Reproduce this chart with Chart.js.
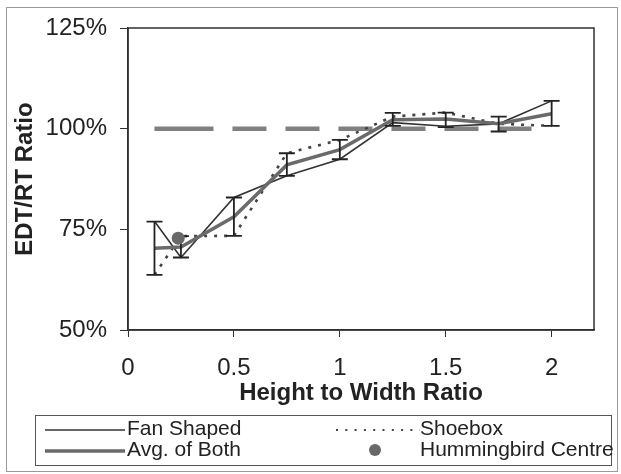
<!DOCTYPE html>
<html>
<head>
<meta charset="utf-8">
<script src="https://cdn.jsdelivr.net/npm/chart.js@4.4.1/dist/chart.umd.min.js"></script>
<style>
  html, body { margin: 0; padding: 0; background: #fff; }
  #wrap { width: 621px; height: 474px; }
</style>
</head>
<body>
<div id="wrap"><canvas id="edtChart" width="621" height="474"></canvas></div>
<script>
// height-to-width ratios measured
var ratios = [0.125, 0.25, 0.5, 0.75, 1.0, 1.25, 1.5, 1.75, 2.0];

// EDT/RT ratio in %
var fanShaped = [77.0, 68.0, 82.9, 88.3, 92.4, 101.5, 100.6, 101.2, 106.9];
var shoebox   = [63.7, 73.3, 73.4, 93.9, 97.2, 103.0, 104.0, 101.2, 100.7];
var avgBoth   = [70.3, 70.6, 78.1, 91.0, 94.8, 102.2, 102.4, 101.2, 103.7];

// error bar ends around the average
var errLow  = [63.7, 68.0, 73.4, 88.3, 92.4, 100.7, 100.4, 99.3, 100.7];
var errHigh = [76.9, 73.3, 82.9, 93.9, 97.2, 103.9, 104.0, 103.0, 106.9];

// single measured hall
var hummingbirdX = [0.237];
var hummingbirdY = [72.8];

// 100% reference line
var targetX = [0.125, 2.0];
var targetY = [100, 100];

var xTicks = [0, 0.5, 1, 1.5, 2];
var yTicks = [50, 75, 100, 125];

var FONT = "'Liberation Sans', Arial, Helvetica, sans-serif";
var TEXT = '#222';

function toPoints(xs, ys) {
    var pts = [];
    for (var i = 0; i < xs.length; i++) {
        pts.push({ x: xs[i], y: ys[i] });
    }
    return pts;
}

// white page with thin outer frame
var pageFrame = {
    id: 'pageFrame',
    beforeDraw: function(chart) {
        var ctx = chart.ctx;
        ctx.save();
        ctx.fillStyle = '#fff';
        ctx.fillRect(0, 0, chart.width, chart.height);
        ctx.strokeStyle = '#9a9a9a';
        ctx.lineWidth = 1;
        ctx.strokeRect(6.5, 7.5, 611, 464);
        ctx.restore();
    },
    afterDatasetsDraw: function(chart) {
        var a = chart.chartArea, ctx = chart.ctx;
        ctx.save();
        ctx.strokeStyle = '#303030';
        ctx.lineWidth = 1.5;
        ctx.strokeRect(a.left, a.top, a.right - a.left, a.bottom - a.top);
        ctx.restore();
    }
};

// error bars drawn right after the average line
var errorBars = {
    id: 'errorBars',
    afterDatasetDraw: function(chart, args) {
        if (chart.data.datasets[args.index].label !== 'Avg. of Both') return;
        var xs = chart.scales.x, ys = chart.scales.y, ctx = chart.ctx;
        ctx.save();
        ctx.strokeStyle = '#222';
        ctx.lineWidth = 1.8;
        for (var i = 0; i < ratios.length; i++) {
            var px = xs.getPixelForValue(ratios[i]);
            var lo = ys.getPixelForValue(errLow[i]);
            var hi = ys.getPixelForValue(errHigh[i]);
            ctx.beginPath();
            ctx.moveTo(px, lo); ctx.lineTo(px, hi);
            ctx.moveTo(px - 8, lo); ctx.lineTo(px + 8, lo);
            ctx.moveTo(px - 8, hi); ctx.lineTo(px + 8, hi);
            ctx.stroke();
        }
        ctx.restore();
    }
};

// boxed two column legend under the axis title
var boxLegend = {
    id: 'boxLegend',
    afterDraw: function(chart) {
        var ctx = chart.ctx;
        var ds = chart.data.datasets;
        var byLabel = {};
        ds.forEach(function(d) { byLabel[d.label] = d; });

        ctx.save();
        ctx.strokeStyle = '#555';
        ctx.lineWidth = 1;
        ctx.strokeRect(35.5, 415.5, 576, 50);

        function lineSample(d, x1, x2, y) {
            ctx.save();
            ctx.strokeStyle = d.borderColor;
            ctx.lineWidth = d.borderWidth;
            ctx.setLineDash(d.borderDash || []);
            ctx.beginPath();
            ctx.moveTo(x1, y); ctx.lineTo(x2, y);
            ctx.stroke();
            ctx.restore();
        }

        lineSample(byLabel['Fan Shaped'], 45, 125, 430);
        lineSample(byLabel['Avg. of Both'], 45, 125, 451);
        var sb = byLabel['Shoebox'];
        ctx.save();
        ctx.strokeStyle = sb.borderColor;
        ctx.lineWidth = 2;
        ctx.setLineDash([2, 7.3]);
        ctx.beginPath();
        ctx.moveTo(336, 430); ctx.lineTo(420, 430);
        ctx.stroke();
        ctx.restore();

        var hb = byLabel['Hummingbird Centre'];
        ctx.fillStyle = hb.backgroundColor;
        ctx.beginPath();
        ctx.arc(375, 450, 6, 0, Math.PI * 2);
        ctx.fill();

        ctx.fillStyle = TEXT;
        ctx.font = '21px ' + FONT;
        ctx.textBaseline = 'middle';
        ctx.textAlign = 'left';
        ctx.fillText('Fan Shaped', 127, 429);
        ctx.fillText('Avg. of Both', 127, 450);
        ctx.fillText('Shoebox', 420, 429);
        ctx.fillText('Hummingbird Centre', 420, 450);
        ctx.restore();
    }
};

var ctx = document.getElementById('edtChart').getContext('2d');
var edtChart = new Chart(ctx, {
    type: 'line',
    data: {
        datasets: [{
            label: 'Hummingbird Centre',
            type: 'scatter',
            data: toPoints(hummingbirdX, hummingbirdY),
            backgroundColor: '#686868',
            borderColor: '#686868',
            pointRadius: 6.5,
            pointBorderWidth: 0,
            showLine: false,
            order: 0
        }, {
            label: 'Avg. of Both',
            data: toPoints(ratios, avgBoth),
            borderColor: '#6a6a6a',
            borderWidth: 3.5,
            pointRadius: 0,
            tension: 0,
            order: 1
        }, {
            label: 'Fan Shaped',
            data: toPoints(ratios, fanShaped),
            borderColor: '#333',
            borderWidth: 1.6,
            pointRadius: 0,
            tension: 0,
            order: 2
        }, {
            label: 'Shoebox',
            data: toPoints(ratios, shoebox),
            borderColor: '#444',
            borderWidth: 2.6,
            borderDash: [3, 7],
            pointRadius: 0,
            tension: 0,
            order: 3
        }, {
            label: 'Target',
            data: toPoints(targetX, targetY),
            borderColor: '#808080',
            borderWidth: 4.5,
            borderDash: [59, 19, 34, 19, 34, 19, 34, 19, 34, 19, 34, 19, 34, 40],
            borderCapStyle: 'butt',
            pointRadius: 0,
            order: 4
        }]
    },
    options: {
        responsive: false,
        animation: false,
        layout: {
            padding: { left: 0, top: 28, right: 27, bottom: 64 }
        },
        plugins: {
            legend: { display: false },
            tooltip: { enabled: false }
        },
        scales: {
            x: {
                type: 'linear',
                min: 0,
                max: 2.2,
                afterFit: function(scale) { scale.height = 80; },
                afterBuildTicks: function(scale) {
                    scale.ticks = xTicks.map(function(v) { return { value: v }; });
                },
                ticks: {
                    padding: 17,
                    color: TEXT,
                    font: { family: FONT, size: 24 },
                    maxRotation: 0,
                    callback: function(v) { return String(v); }
                },
                grid: {
                    drawOnChartArea: false,
                    tickLength: 7,
                    color: '#303030',
                    tickWidth: 1
                },
                border: { display: true, color: '#303030', width: 1.5 },
                title: {
                    display: true,
                    text: 'Height to Width Ratio',
                    color: TEXT,
                    font: { family: FONT, size: 24, weight: 'bold' },
                    padding: { top: 0, bottom: 2 }
                }
            },
            y: {
                min: 50,
                max: 125,
                afterFit: function(scale) { scale.width = 128; },
                afterBuildTicks: function(scale) {
                    scale.ticks = yTicks.map(function(v) { return { value: v }; });
                },
                ticks: {
                    padding: 13,
                    color: TEXT,
                    font: { family: FONT, size: 24 },
                    callback: function(v) { return v + '%'; }
                },
                grid: {
                    drawOnChartArea: false,
                    tickLength: 8,
                    color: '#303030',
                    tickWidth: 1
                },
                border: { display: true, color: '#303030', width: 1.5 },
                title: {
                    display: true,
                    text: 'EDT/RT Ratio',
                    color: TEXT,
                    font: { family: FONT, size: 24, weight: 'bold' },
                    padding: { top: 11, bottom: 0 }
                }
            }
        }
    },
    plugins: [pageFrame, errorBars, boxLegend]
});
</script>
</body>
</html>
